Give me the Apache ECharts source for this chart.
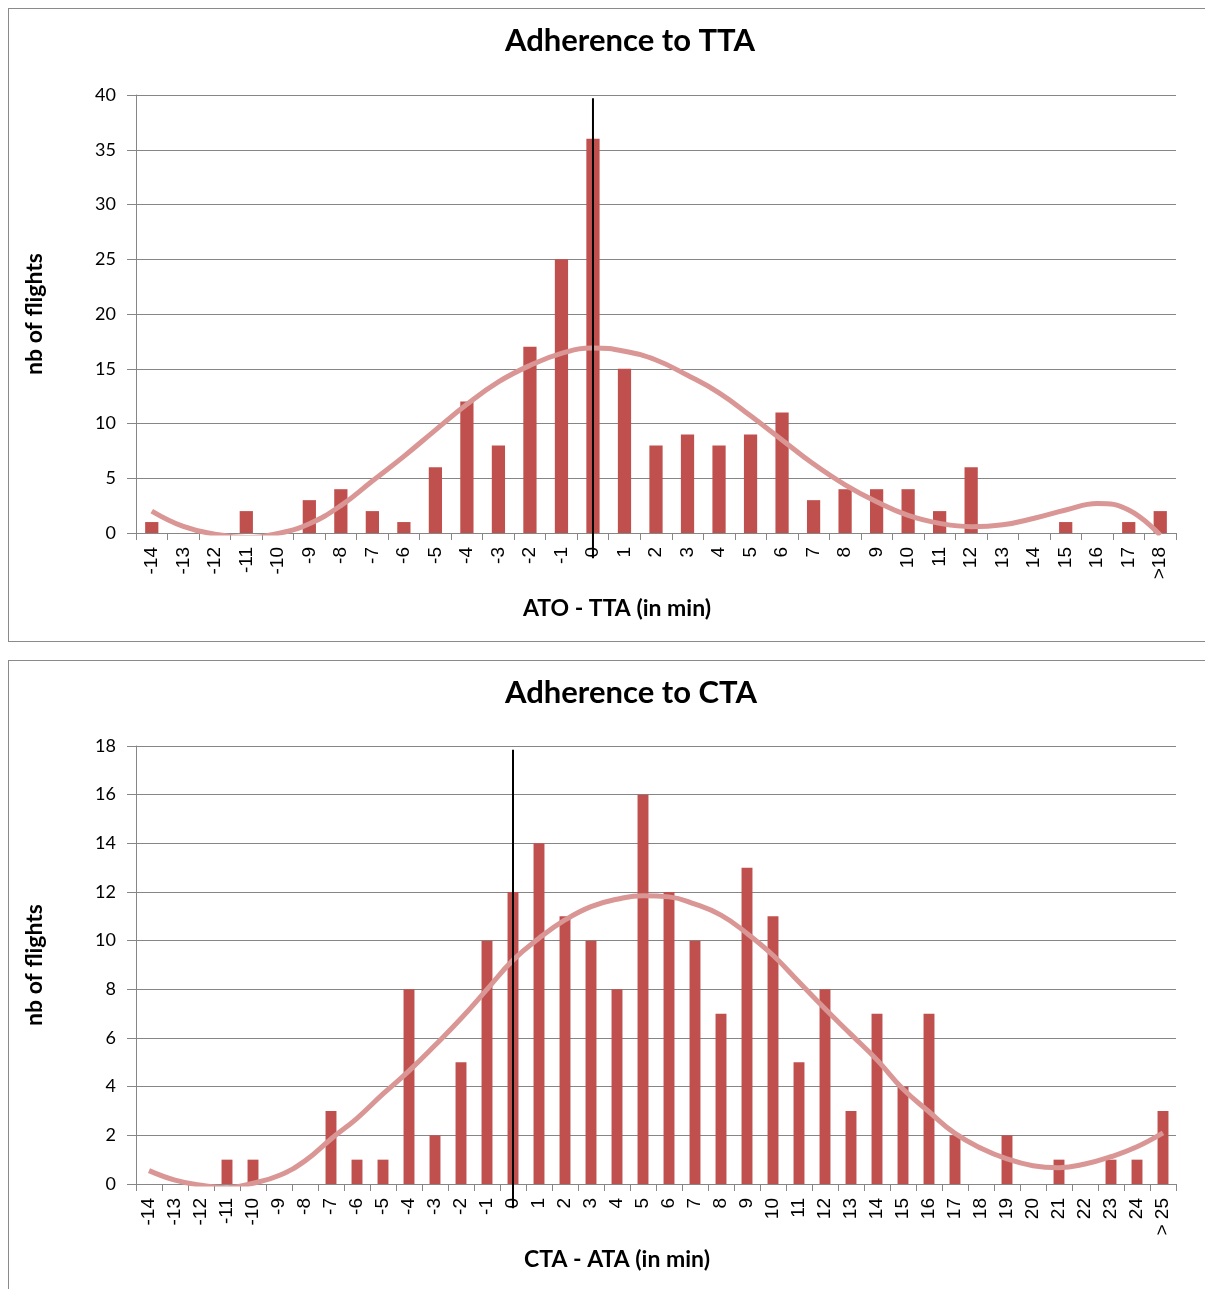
<!DOCTYPE html>
<html>
<head>
<meta charset="utf-8">
<script src="https://cdn.jsdelivr.net/npm/echarts@6/dist/echarts.min.js"></script>
<style>
  html, body { margin: 0; padding: 0; background: #fff; overflow: hidden; }
  body { width: 1205px; height: 1289px; position: relative; }
  .panel { position: absolute; border: 1.5px solid #8a8a8a; box-sizing: border-box; }
  #p1 { left: 8px; top: 8px; width: 1260px; height: 634px; }
  #p2 { left: 8px; top: 660px; width: 1260px; height: 700px; }
  #chart { position: absolute; left: 0; top: 0; width: 1205px; height: 1289px; }
</style>
</head>
<body>
<div class="panel" id="p1"></div>
<div class="panel" id="p2"></div>
<div id="chart"></div>
<script>
// ---- Top chart: Adherence to TTA ----
const ttaCategories = ['-14','-13','-12','-11','-10','-9','-8','-7','-6','-5','-4','-3','-2','-1','0','1','2','3','4','5','6','7','8','9','10','11','12','13','14','15','16','17','>18'];
const ttaCounts = [1,0,0,2,0,3,4,2,1,6,12,8,17,25,36,15,8,9,8,9,11,3,4,4,4,2,6,0,0,1,0,1,2];
const ttaTrend = [2.0,0.6,-0.1,-0.4,-0.05,0.85,2.5,4.75,7.0,9.4,11.75,13.8,15.3,16.4,16.9,16.6,15.8,14.4,12.8,10.7,8.5,6.3,4.4,2.85,1.6,0.88,0.58,0.75,1.35,2.1,2.7,2.1,-0.2];
const ttaZeroLine = [39.7, -2.3];

// ---- Bottom chart: Adherence to CTA ----
const ctaCategories = ['-14','-13','-12','-11','-10','-9','-8','-7','-6','-5','-4','-3','-2','-1','0','1','2','3','4','5','6','7','8','9','10','11','12','13','14','15','16','17','18','19','20','21','22','23','24','> 25'];
const ctaCounts = [0,0,0,1,1,0,0,3,1,1,8,2,5,10,12,14,11,10,8,16,12,10,7,13,11,5,8,3,7,4,7,2,0,2,0,1,0,1,1,3];
const ctaTrend = [0.55,0.16,-0.05,-0.15,0.03,0.35,0.95,1.85,2.7,3.7,4.65,5.7,6.8,8.0,9.2,10.1,10.85,11.4,11.7,11.85,11.8,11.5,11.05,10.3,9.4,8.3,7.2,6.15,5.1,3.9,2.97,2.08,1.47,1.03,0.75,0.67,0.82,1.12,1.53,2.1];
const ctaZeroLine = [17.85, -1.0];

const BAR = '#C0504D';
const TREND = '#D99694';
const GRID = '#868686';
const NUM_FONT = 'Lato';
const CAT_FONT = 'Liberation Sans';

function xAxisCfg(gridIndex, cats, name) {
  return {
    type: 'category', gridIndex: gridIndex, data: cats, boundaryGap: true,
    axisLine: { show: true, lineStyle: { color: GRID, width: 1 } },
    axisTick: { show: true, length: 7, lineStyle: { color: GRID } },
    axisLabel: { rotate: 90, interval: 0, margin: 14, fontFamily: CAT_FONT, fontSize: 19, color: '#000' },
    name: name, nameLocation: 'middle', nameGap: 64,
    nameTextStyle: { fontFamily: NUM_FONT, fontWeight: 'bold', fontSize: 23, color: '#000', padding: [0, 78, 0, 0] }
  };
}
function yAxisCfg(gridIndex, max, interval) {
  return {
    type: 'value', gridIndex: gridIndex, min: 0, max: max, interval: interval,
    axisLine: { show: true, lineStyle: { color: GRID, width: 1 } },
    axisTick: { show: true, length: 9, lineStyle: { color: GRID } },
    splitLine: { show: true, lineStyle: { color: GRID, width: 1 } },
    axisLabel: { margin: 20, fontFamily: NUM_FONT, fontSize: 18, color: '#000' },
    name: 'nb of flights', nameLocation: 'middle', nameRotate: 90, nameGap: 90,
    nameTextStyle: { fontFamily: NUM_FONT, fontWeight: 'bold', fontSize: 23, color: '#000' }
  };
}
function seriesFor(idx, counts, trend, zeroLine) {
  const zeroName = '0';
  return [
    { type: 'bar', xAxisIndex: idx, yAxisIndex: idx, data: counts, barWidth: '42%',
      itemStyle: { color: BAR }, z: 2 },
    { type: 'line', xAxisIndex: idx, yAxisIndex: idx, data: trend, smooth: 0.45, symbol: 'none',
      lineStyle: { color: TREND, width: 5 }, clip: true, z: 3 },
    { type: 'line', xAxisIndex: idx, yAxisIndex: idx,
      data: zeroLine.map(v => [zeroName, v]), symbol: 'none', clip: false,
      lineStyle: { color: '#000', width: 2 }, z: 4 }
  ];
}

const chart = echarts.init(document.getElementById('chart'), null, { renderer: 'canvas' });
chart.setOption({
  animation: false,
  backgroundColor: 'transparent',
  title: [
    { text: 'Adherence to TTA', left: 625, top: 20, textAlign: 'center',
      textStyle: { fontFamily: NUM_FONT, fontWeight: 'bold', fontSize: 31, color: '#000' } },
    { text: 'Adherence to CTA', left: 626, top: 672, textAlign: 'center',
      textStyle: { fontFamily: NUM_FONT, fontWeight: 'bold', fontSize: 31, color: '#000' } }
  ],
  grid: [
    { left: 136, top: 95, width: 1040, height: 438 },
    { left: 136, top: 746, width: 1040, height: 438 }
  ],
  xAxis: [ xAxisCfg(0, ttaCategories, 'ATO - TTA (in min)'), xAxisCfg(1, ctaCategories, 'CTA - ATA (in min)') ],
  yAxis: [ yAxisCfg(0, 40, 5), yAxisCfg(1, 18, 2) ],
  series: [].concat(
    seriesFor(0, ttaCounts, ttaTrend, ttaZeroLine),
    seriesFor(1, ctaCounts, ctaTrend, ctaZeroLine)
  )
});
</script>
</body>
</html>
